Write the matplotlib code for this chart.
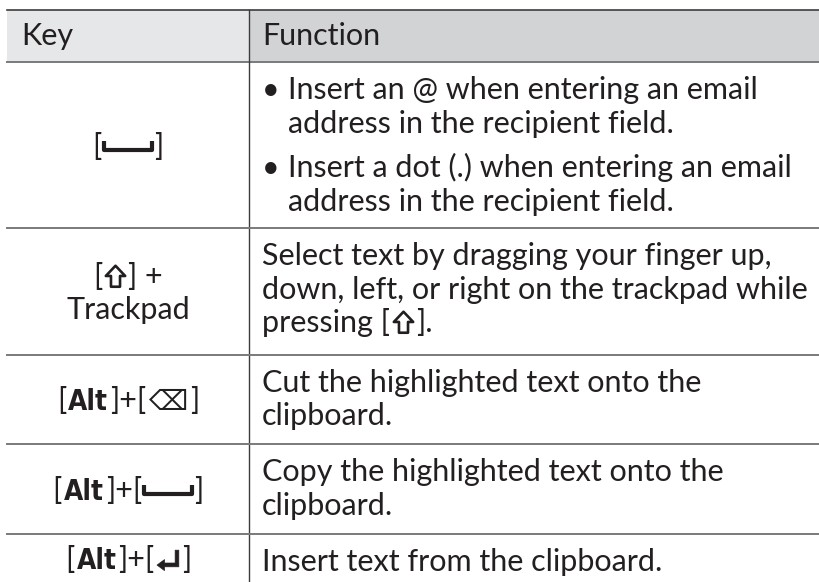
import matplotlib.pyplot as plt
from matplotlib.patches import Rectangle
from matplotlib.path import Path
from matplotlib.markers import MarkerStyle

# table content; upper-case words are key icons
headers = ["Key", "Function"]
keys = [
    [["[", "SPACE", "]"]],
    [["[", "SHIFT", "] +"], ["Trackpad"]],
    [["[", "ALT", "]+[", "DEL", "]"]],
    [["[", "ALT", "]+[", "SPACE", "]"]],
    [["[", "ALT", "]+[", "ENTER", "]"]],
]
functions = [
    [[["Insert an @ when entering an email"], ["address in the recipient field."]],
     [["Insert a dot (.) when entering an email"], ["address in the recipient field."]]],
    [[["Select text by dragging your finger up,"],
      ["down, left, or right on the trackpad while"],
      ["pressing [", "SHIFT", "]."]]],
    [[["Cut the highlighted text onto the"], ["clipboard."]]],
    [[["Copy the highlighted text onto the"], ["clipboard."]]],
    [[["Insert text from the clipboard."]]],
]
bulleted = [True, False, False, False, False]

# layout (pixels)
W, H = 820, 582
left, split = 7, 249
top, head_bot = 10, 62
row_bottoms = [228, 355, 444, 534, 582]
line_gap = 33.5
para_gap = 11
first_base = 37
cap = 22
txt_col = "#231f20"
fs = 22
fam = ["Lato", "DejaVu Sans"]

fig = plt.figure(figsize=(W / 100, H / 100), dpi=100)
ax = fig.add_axes([0, 0, 1, 1])
ax.set_xlim(0, W)
ax.set_ylim(H, 0)
ax.axis("off")
rend = fig.canvas.get_renderer()

# key icons drawn as marker glyphs: (marker, size pt, edge width, slot px, lift px)
space_mk = MarkerStyle(Path([(-1, 0.36), (-1, 0), (1, 0), (1, 0.36)]),
                       fillstyle="none", joinstyle="miter", capstyle="butt")
shift_mk = MarkerStyle(Path([(0, 1), (-0.9, 0.05), (-0.42, 0.05), (-0.42, -0.95),
                             (0.42, -0.95), (0.42, 0.05), (0.9, 0.05), (0, 1)], closed=True),
                       fillstyle="none", joinstyle="miter")
enter_mk = MarkerStyle(Path([(-1, -0.4), (-0.35, 0.08), (-0.35, -0.22), (0.58, -0.22),
                             (0.58, 0.9), (0.9, 0.9), (0.9, -0.55), (-0.35, -0.55),
                             (-0.35, -0.88), (-1, -0.4)], closed=True), joinstyle="miter")
markers = {
    "SPACE": (space_mk, 35, 3.0, 52, 6),
    "SHIFT": (shift_mk, 15.5, 1.9, 26, 10),
    "ENTER": (enter_mk, 16.5, 0.5, 27, 9),
}
icons = {
    "DEL": ("\u232b", dict(family="DejaVu Sans", fontsize=20)),
    "ALT": ("Alt", dict(family="DejaVu Sans", fontweight="bold", fontstretch="condensed", fontsize=20)),
}


def draw_tokens(x, base, tokens, ha="left"):
    parts = []
    for tok in tokens:
        if tok in markers:
            parts.append(("mark", tok, markers[tok][3]))
            continue
        if tok in icons:
            s, kw = icons[tok]
            pad = 2
        else:
            s, kw = tok, dict(family=fam, fontsize=fs)
            pad = 0
        t = ax.text(0, base, s, color=txt_col, va="baseline", ha="left", **kw)
        w = t.get_window_extent(rend).width
        parts.append(("text", t, w + 2 * pad))
    total = sum(p[2] for p in parts)
    cx = x - total / 2 if ha == "center" else x
    for kind, t, w in parts:
        if kind == "mark":
            mk, ms, mew, _, lift = markers[t]
            ax.plot([cx + w / 2], [base - lift], marker=mk, markersize=ms,
                    markeredgewidth=mew, color=txt_col)
        else:
            t.set_x(cx + (w - t.get_window_extent(rend).width) / 2)
        cx += w


# header band
ax.add_patch(Rectangle((left, top), split - left, head_bot - top, color="#e6e7e8", lw=0))
ax.add_patch(Rectangle((split, top), W - split, head_bot - top, color="#d1d3d4", lw=0))
ax.text(21, 45, headers[0], fontsize=fs, family=fam, color=txt_col, va="baseline")
ax.text(split + 13, 45, headers[1], fontsize=fs, family=fam, color=txt_col, va="baseline")

ax.plot([left, W], [top, top], color="#3c3c3c", lw=1.2)
ax.plot([left, W], [head_bot, head_bot], color="#7a7a7a", lw=1.4)
ax.plot([split, split], [top, H], color="#3c3c3c", lw=1.0)

row_top = head_bot
for i, rb in enumerate(row_bottoms):
    if rb < H:
        ax.plot([left, W], [rb, rb], color="#7a7a7a", lw=1.4)
    # function column
    base = row_top + first_base
    for para in functions[i]:
        for j, line in enumerate(para):
            if bulleted[i]:
                if j == 0:
                    ax.text(split + 13, base, "\u2022", fontsize=fs, family=fam,
                            color=txt_col, va="baseline")
                draw_tokens(split + 39, base, line)
            else:
                draw_tokens(split + 13, base, line)
            base += line_gap
        base += para_gap
    # key column, centred in the row
    n = len(keys[i])
    kb = (row_top + rb) / 2 + cap / 2 - (n - 1) * line_gap / 2
    for j, line in enumerate(keys[i]):
        draw_tokens((left + split) / 2, kb + j * line_gap, line, ha="center")
    row_top = rb

fig.savefig("out.png", dpi=100)
